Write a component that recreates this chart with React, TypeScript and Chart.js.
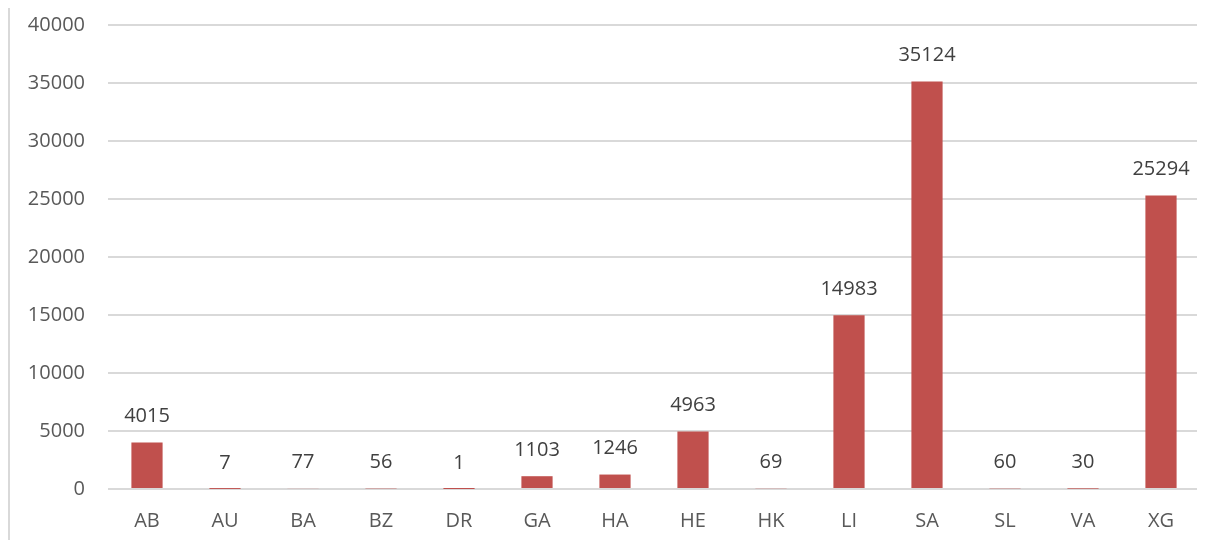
import React, { useEffect, useRef } from "react";
import { Chart, registerables } from "chart.js";

Chart.register(...registerables);

const categories = ["AB", "AU", "BA", "BZ", "DR", "GA", "HA", "HE", "HK", "LI", "SA", "SL", "VA", "XG"];
const values = [4015, 7, 77, 56, 1, 1103, 1246, 4963, 69, 14983, 35124, 60, 30, 25294];
const yTicks = [0, 5000, 10000, 15000, 20000, 25000, 30000, 35000, 40000];

const FONT = "'Open Sans', 'Noto Sans', sans-serif";

const dataLabels = {
  id: "dataLabels",
  afterDatasetsDraw(chart: any) {
    const ctx = chart.ctx;
    const meta = chart.getDatasetMeta(0);
    ctx.save();
    ctx.font = `20px ${FONT}`;
    ctx.fillStyle = "#404040";
    ctx.textAlign = "center";
    ctx.textBaseline = "middle";
    meta.data.forEach((bar: any, i: number) => {
      ctx.fillText(String(values[i]), bar.x, bar.y - 26);
    });
    ctx.restore();
  },
};

export default function App() {
  const ref = useRef<HTMLCanvasElement | null>(null);
  useEffect(() => {
    document.body.style.overflow = "hidden";
    const chart = new Chart(ref.current!, {
      type: "bar",
      data: {
        labels: categories,
        datasets: [
          {
            data: values,
            backgroundColor: "#C0504D",
            barPercentage: 0.4,
            categoryPercentage: 1,
          },
        ],
      },
      options: {
        animation: false,
        responsive: false,
        layout: { padding: { left: 0, right: 5, top: 25, bottom: 0 } },
        plugins: { legend: { display: false }, tooltip: { enabled: false } },
        scales: {
          x: {
            grid: { display: false, drawTicks: false },
            border: { display: false },
            ticks: { color: "#595959", font: { family: FONT, size: 20 }, padding: 20 },
            afterFit(scale: any) {
              scale.height = 51;
              scale.paddingLeft = 0;
              scale.paddingRight = 0;
            },
          },
          y: {
            min: 0,
            max: 40000,
            afterBuildTicks(scale: any) {
              scale.ticks = yTicks.map((v) => ({ value: v }));
            },
            grid: { color: "#d9d9d9", lineWidth: 2, drawTicks: false },
            border: { display: false },
            ticks: {
              color: "#595959",
              font: { family: FONT, size: 20 },
              padding: 23,
              callback: (v: any) => String(v),
            },
            afterFit(scale: any) {
              scale.width = 98;
              scale.paddingTop = 0;
              scale.paddingBottom = 0;
            },
          },
        },
      },
      plugins: [dataLabels],
    });
    return () => chart.destroy();
  }, []);
  return (
    <div
      style={{
        marginTop: -8,
        width: 1197,
        height: 540,
        borderLeft: "2px solid #d9d9d9",
        boxSizing: "border-box",
        background: "#fff",
      }}
    >
      <canvas ref={ref} width={1195} height={540} style={{ display: "block" }} />
    </div>
  );
}
